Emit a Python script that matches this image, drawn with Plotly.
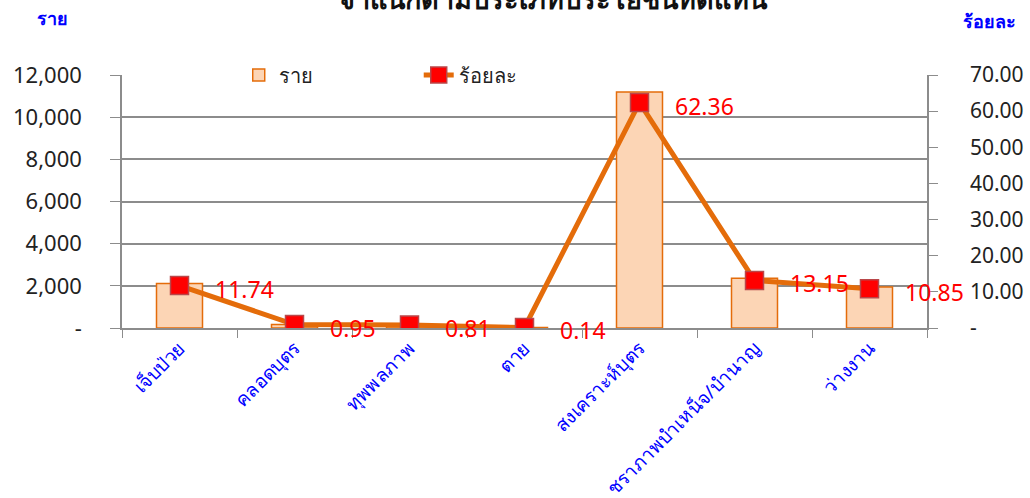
import plotly.graph_objects as go

categories = ["เจ็บป่วย", "คลอดบุตร", "ทุพพลภาพ", "ตาย", "สงเคราะห์บุตร", "ชราภาพบำเหน็จ/บำนาญ", "ว่างงาน"]
cases = [2107, 171, 145, 25, 11194, 2360, 1948]
percent = [11.74, 0.95, 0.81, 0.14, 62.36, 13.15, 10.85]
percent_labels = ["11.74", "0.95", "0.81", "0.14", "62.36", "13.15", "10.85"]
left_ticks = [0, 2000, 4000, 6000, 8000, 10000, 12000]
left_ticktext = ["-", "2,000", "4,000", "6,000", "8,000", "10,000", "12,000"]
right_ticks = [0, 10, 20, 30, 40, 50, 60, 70]
right_ticktext = ["-", "10.00", "20.00", "30.00", "40.00", "50.00", "60.00", "70.00"]

FONT = "Noto Sans, DejaVu Sans, sans-serif"
GRID = "#8c8c8c"
ORANGE = "#E46C0A"

fig = go.Figure()
fig.add_trace(go.Bar(
    x=categories, y=cases, name="ราย", width=0.4,
    marker=dict(color="#FCD5B5", line=dict(color=ORANGE, width=1.5)),
    yaxis="y",
))
fig.add_trace(go.Scatter(
    x=categories, y=percent, name="ร้อยละ", mode="lines+markers",
    line=dict(color=ORANGE, width=5),
    marker=dict(symbol="square", size=18, color="#FF0000", line=dict(color="#B9474A", width=1.5)),
    yaxis="y2",
))

for c, p, t in zip(categories, percent, percent_labels):
    fig.add_annotation(x=c, y=p, yref="y2", text=t, showarrow=False,
                       xanchor="left", yanchor="middle", xshift=33, yshift=-3,
                       font=dict(family=FONT, size=23, color="#FF0000"))

fig.add_annotation(x=0, y=1, xref="paper", yref="paper", text="<b>ราย</b>", showarrow=False,
                   xanchor="center", yanchor="middle", xshift=-70, yshift=57,
                   font=dict(family=FONT, size=18, color="#0000FF"))
fig.add_annotation(x=1, y=1, xref="paper", yref="paper", text="<b>ร้อยละ</b>", showarrow=False,
                   xanchor="center", yanchor="middle", xshift=62, yshift=54,
                   font=dict(family=FONT, size=18, color="#0000FF"))

fig.update_layout(
    width=1030, height=498,
    margin=dict(l=122, r=103, t=75, b=170, autoexpand=False),
    paper_bgcolor="white", plot_bgcolor="white",
    font=dict(family=FONT, color="#222222"),
    title=dict(text="<b>จำแนกตามประเภทประโยชน์ทดแทน</b>", x=0.537, xanchor="center",
               y=1.0, yref="container", yanchor="middle",
               font=dict(family=FONT, size=27, color="#111111")),
    showlegend=True,
    legend=dict(orientation="h", x=0.145, y=1.0, xanchor="left", yanchor="middle",
                bgcolor="rgba(0,0,0,0)", font=dict(family=FONT, size=20, color="#222222"),
                entrywidth=135, entrywidthmode="pixels", traceorder="normal"),
    xaxis=dict(
        type="category", range=[-0.5, len(categories) - 0.5],
        tickson="boundaries", ticks="outside", ticklen=8, tickcolor=GRID,
        showline=True, linecolor=GRID, linewidth=1.5, tickangle=-45, automargin=False,
        tickfont=dict(family=FONT, size=19, color="#0000FF"),
        showgrid=False,
    ),
    yaxis=dict(
        range=[0, 12000], tickvals=left_ticks, ticktext=left_ticktext,
        showgrid=True, gridcolor=GRID, gridwidth=1.5, automargin=False,
        showline=True, linecolor=GRID, linewidth=1.5,
        ticks="outside", ticklen=10, tickcolor=GRID, ticklabelstandoff=24,
        tickfont=dict(family=FONT, size=22, color="#222222"), zeroline=False,
    ),
    yaxis2=dict(
        range=[0, 70], tickvals=right_ticks, ticktext=right_ticktext,
        overlaying="y", side="right", showgrid=False, automargin=False,
        showline=True, linecolor=GRID, linewidth=1.5,
        ticks="outside", ticklen=9, tickcolor=GRID, ticklabelstandoff=28,
        tickfont=dict(family=FONT, size=21, color="#222222"), zeroline=False,
    ),
)

fig.write_html("out.html", config={"displayModeBar": False},
               post_script="document.body.style.margin='0';")
